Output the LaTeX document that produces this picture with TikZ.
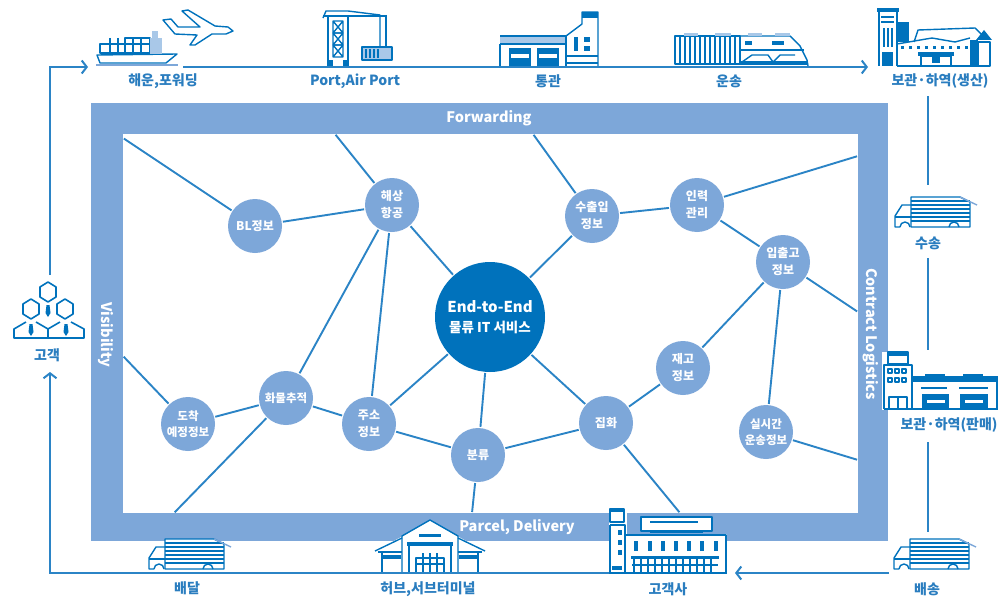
\documentclass[tikz,border=0pt]{standalone}
\usepackage{fontspec}
\setmainfont{Noto Sans CJK KR}
\usetikzlibrary{arrows.meta}
\definecolor{framecol}{HTML}{7DA7D9}
\definecolor{linkcol}{HTML}{2B84C6}
\definecolor{darkcol}{HTML}{0072BC}
\definecolor{palecol}{HTML}{A9C8E8}
\definecolor{labelcol}{HTML}{2A7DBF}
\tikzset{
linkline/.style={line width=1.9pt,color=linkcol,shorten >=1pt,shorten <=1pt},
loopline/.style={line width=2pt,color=linkcol},
iconline/.style={line width=1.4pt,color=darkcol,line join=round},
iconfill/.style={fill=darkcol,draw=none},
infonode/.style={circle,fill=framecol,text=white,minimum size=54pt,inner sep=0pt,align=center,font=\fontsize{12}{17}\selectfont\bfseries},
mainnode/.style={circle,fill=darkcol,text=white,minimum size=110pt,inner sep=0pt,align=center,font=\fontsize{15}{20}\selectfont\bfseries},
steplabel/.style={text=labelcol,inner sep=0pt,font=\fontsize{14}{16}\selectfont\bfseries},
framelabel/.style={text=white,inner sep=0pt,font=\fontsize{14.5}{16}\selectfont\bfseries},
truck/.pic={
\fill [white] (0,-26)-- (17,-26)-- (17,-34)-- (66,-34)-- (76,-29)-- (76,-3)-- (0,-3)-- cycle;
\draw [iconline] (17,-34)-- (66,-34)-- (76,-29)-- (76,-4)-- (17,-4)-- cycle;
\foreach \yy in {-30,-26,-22,-18,-14,-10} \draw [iconline] (17,\yy)-- (76,\yy);
\draw [iconline,color=framecol] (66,-34)-- (83,-26);
\draw [iconline] (17,-26)-- (8,-26)-- (1,-15)-- (1,-4)-- (6,-4);
\draw [iconline] (1,-14)-- (17,-14);
\draw [iconline] (6,-4) arc (180:360:5);
\draw [iconline] (55,-4) arc (180:360:5);
}
}
\begin{document}
\begin{tikzpicture}[line cap=butt,line join=miter,>={Straight Barb[length=5pt,width=13pt]},x=1pt,y=-1pt]
\clip(0,0) rectangle (998,602);
% frame
\fill [framecol] (91,103) rectangle (888,541);
\fill [white] (123,134) rectangle (858,513);
\draw (489,118) node[framelabel] (forwardlab) {Forwarding};
\draw (517,527) node[framelabel] (parcellab) {Parcel, Delivery};
\draw (106,335) node[framelabel,rotate=-90] (vislab) {Visibility};
\draw (871,334) node[framelabel,rotate=-90] (contractlab) {Contract Logistics};
% info nodes
\draw (490,317) node[mainnode] (center) {End-to-End\\\fontsize{13.5}{20}\selectfont 물류 IT 서비스};
\draw (255,226) node[infonode] (blinfo) {BL정보};
\draw (392,205) node[infonode] (seaair) {해상\\항공};
\draw (592,216) node[infonode] (customs) {수출입\\정보};
\draw (697,205) node[infonode] (staff) {인력\\관리};
\draw (783,262) node[infonode] (stockio) {입출고\\정보};
\draw (683,368) node[infonode] (stock) {재고\\정보};
\draw (606,423) node[infonode] (pickup) {집화};
\draw (766,432) node[infonode,font=\fontsize{11.5}{16}\selectfont\bfseries] (realtime) {실시간\\운송정보};
\draw (478,455) node[infonode] (sorting) {분류};
\draw (369,424) node[infonode] (address) {주소\\정보};
\draw (286,398) node[infonode,font=\fontsize{11.5}{16}\selectfont\bfseries] (tracking) {화물추적};
\draw (188,424) node[infonode,font=\fontsize{11.5}{16}\selectfont\bfseries] (arrival) {도착\\예정정보};
% free ends on the frame
\coordinate (blend) at (123,138);
\coordinate (seaend) at (335,134);
\coordinate (custend) at (533,134);
\coordinate (staffend) at (858,156);
\coordinate (ioend) at (858,312);
\coordinate (rtend) at (858,460);
\coordinate (pickend) at (680,513);
\coordinate (sortend) at (472,513);
\coordinate (trackend) at (174,513);
\coordinate (arrend) at (123,356);
% links
\draw [linkline] (blinfo)-- (blend);
\draw [linkline] (blinfo)-- (seaair);
\draw [linkline] (seaair)-- (seaend);
\draw [linkline] (seaair)-- (center);
\draw [linkline] (seaair)-- (address);
\draw [linkline] (seaair)-- (tracking);
\draw [linkline] (tracking)-- (arrival);
\draw [linkline] (tracking)-- (address);
\draw [linkline] (tracking)-- (trackend);
\draw [linkline] (arrival)-- (arrend);
\draw [linkline] (address)-- (center);
\draw [linkline] (address)-- (sorting);
\draw [linkline] (center)-- (sorting);
\draw [linkline] (center)-- (pickup);
\draw [linkline] (center)-- (customs);
\draw [linkline] (sorting)-- (pickup);
\draw [linkline] (sorting)-- (sortend);
\draw [linkline] (pickup)-- (pickend);
\draw [linkline] (pickup)-- (stock);
\draw [linkline] (stock)-- (stockio);
\draw [linkline] (stockio)-- (staff);
\draw [linkline] (stockio)-- (ioend);
\draw [linkline] (stockio)-- (realtime);
\draw [linkline] (realtime)-- (rtend);
\draw [linkline] (staff)-- (staffend);
\draw [linkline] (staff)-- (customs);
\draw [linkline] (customs)-- (custend);
% outer loop
\coordinate (peopletop) at (50,275);
\coordinate (topleft) at (50,67);
\coordinate (shipin) at (88,67);
\coordinate (shipout) at (183,67);
\coordinate (factin) at (868,67);
\coordinate (factout) at (928,96);
\coordinate (truckin) at (928,185);
\coordinate (truckout) at (928,258);
\coordinate (wareIn) at (928,350);
\coordinate (wareout) at (928,442);
\coordinate (lowtruck) at (928,532);
\coordinate (lowout) at (889,573);
\coordinate (custin) at (735,573);
\coordinate (custout) at (727,573);
\coordinate (botleft) at (50,573);
\coordinate (peoplelow) at (50,372);
\draw [loopline,->] (peopletop)-- (topleft)-- (shipin);
\draw [loopline,->] (shipout)-- (factin);
\draw [loopline] (factout)-- (truckin);
\draw [loopline] (truckout)-- (wareIn);
\draw [loopline] (wareout)-- (lowtruck);
\draw [loopline,->] (lowout)-- (custin);
\draw [loopline,->] (custout)-- (botleft)-- (peoplelow);
% step labels
\draw (163,81) node[steplabel] (shiplab) {해운,포워딩};
\draw (355,81) node[steplabel] (portlab) {Port,Air Port};
\draw (548,81) node[steplabel] (clearlab) {통관};
\draw (729,81) node[steplabel] (haullab) {운송};
\draw (940,81) node[steplabel] (prodlab) {보관·하역(생산)};
\draw (928,243) node[steplabel] (movelab) {수송};
\draw (949,425) node[steplabel] (salelab) {보관·하역(판매)};
\draw (927,589) node[steplabel] (shiptolab) {배송};
\draw (668,589) node[steplabel] (clientlab) {고객사};
\draw (428,589) node[steplabel] (hublab) {허브,서브터미널};
\draw (187,588) node[steplabel] (deliverlab) {배달};
\draw (47,355) node[steplabel] (customerlab) {고객};
% ship
\draw [iconline,fill=white] (97,55)-- (177,54)-- (166,63)-- (100,63)-- cycle;
\draw [iconline] (100,44) rectangle (150,53);
\draw [iconline] (125,38) rectangle (150,53);
\foreach \xx in {110,118,133,141} \draw [iconline] (\xx,38)-- (\xx,53);
\fill [palecol] (150,38) rectangle (162,54);
\fill [palecol] (152,31) rectangle (158,38);
\draw [iconline,color=framecol] (96,65)-- (178,65);
% plane
\draw [iconline] (163,20)-- (171,19)-- (178,27)-- (200,27)-- (182,11)-- (188,10)-- (215,26)-- (228,27)-- (233,31)-- (226,34)-- (212,34)-- (195,45)-- (190,45)-- (197,35)-- (175,34)-- cycle;
% crane
\draw [iconline] (328,16)-- (328,66);
\draw [iconline] (348,16)-- (348,66);
\draw [iconline] (323,18)-- (326,11)-- (348,11)-- (380,15)-- (380,47);
\draw [iconline] (386,15)-- (386,47);
\draw [iconline] (323,16)-- (386,16);
\foreach \yy in {21,33,45} \draw [iconline] (333,\yy) rectangle (343,\yy+12) (333,\yy)-- (343,\yy+12) (333,\yy+12)-- (343,\yy);
\fill [darkcol] (327,60) rectangle (333,66);
\fill [darkcol] (343,60) rectangle (349,66);
\draw [iconline,fill=palecol] (362,47) rectangle (392,60);
\foreach \xx in {366,370,374,378} \draw [iconline] (\xx,49)-- (\xx,58);
% customs house
\fill [palecol] (500,37) rectangle (566,44);
\draw [iconline] (500,36)-- (566,36)-- (566,66) (500,44)-- (566,44) (500,44)-- (500,66);
\fill [darkcol] (509,48) rectangle (531,66);
\fill [darkcol] (537,48) rectangle (559,66);
\fill [white] (511,54) rectangle (529,58);
\fill [white] (539,54) rectangle (557,58);
\draw [iconline] (566,36)-- (582,24)-- (582,12)-- (598,12)-- (598,66);
\fill [darkcol] (582,12) rectangle (598,18);
\draw [iconline] (566,56)-- (598,56) (566,63)-- (598,63);
\fill [darkcol] (574,37) rectangle (578,51);
\fill [darkcol] (584,37) rectangle (590,42);
\fill [darkcol] (584,46) rectangle (590,51);
% train
\draw [iconline] (675,36)-- (740,36)-- (740,64)-- (675,64)-- cycle;
\foreach \xx in {680,685,690,695,700,705,710,715,720,725,730,735} \draw [iconline] (\xx,36)-- (\xx,64);
\draw [iconline] (740,36)-- (790,36)-- (800,46)-- (807,60)-- (808,66);
\draw [iconline] (740,50)-- (804,50);
\fill [palecol] (684,33) rectangle (698,36);
\fill [palecol] (715,33) rectangle (731,36);
\fill [palecol] (748,33) rectangle (762,36);
\fill [palecol] (775,33) rectangle (790,36);
\fill [darkcol] (745,41) rectangle (752,45);
\fill [darkcol] (772,41) rectangle (784,45);
\draw [iconline] (742,62)-- (752,55)-- (768,55)-- (773,62) (773,62)-- (780,55)-- (795,55);
\fill [darkcol] (740,61) rectangle (808,65);
% factory
\draw [iconline] (879,9)-- (897,9)-- (897,66) (879,9)-- (879,66);
\fill [darkcol] (877,8) rectangle (899,12);
\fill [darkcol] (882,52) rectangle (893,66);
\draw [iconline] (881,17)-- (894,17) (881,22)-- (894,22);
\foreach \xx in {884,888,892} \draw [iconline] (\xx,28)-- (\xx,47);
\fill [darkcol] (897,22) rectangle (909,42);
\draw [iconline] (914,42)-- (918,30)-- (975,28)-- (985,38);
\draw [iconline] (897,66)-- (990,66);
\draw [iconline] (897,44)-- (932,38)-- (955,42)-- (970,38);
\foreach \xx in {901,909,917,925,933,941,949,957,965} \fill [darkcol] (\xx,46) rectangle (\xx+3,49);
\draw [iconline] (921,56) rectangle (951,66);
\fill [darkcol] (918,52) rectangle (954,56);
\fill [darkcol] (932,57) rectangle (940,63);
\fill [darkcol] (970,40) rectangle (978,66);
\draw [iconline] (978,42) rectangle (990,66);
\fill [darkcol] (984,30)-- (976,40)-- (992,40)-- cycle;
% trucks
\draw (894,231) pic {truck};
\draw (148,573) pic {truck};
\draw (893,573) pic {truck};
% warehouse on the right
\fill [white] (882,352) rectangle (998,410);
\draw [iconline] (884,409)-- (998,409);
\draw [iconline] (884,409)-- (884,365)-- (912,365)-- (912,409);
\draw [iconline] (888,352) rectangle (908,364);
\fill [darkcol] (888,352) rectangle (908,356);
\foreach \xx in {888,895,902} \foreach \yy in {369,378} \draw [iconline] (\xx,\yy) rectangle (\xx+4,\yy+4);
\draw [iconline] (889,408)-- (889,397)-- (907,397)-- (907,408) (898,397)-- (898,408);
\fill [darkcol] (912,376) rectangle (998,382);
\fill [darkcol] (925,374) rectangle (945,377);
\fill [darkcol] (963,374) rectangle (983,377);
\draw [iconline] (921,388)-- (947,388) (959,388)-- (988,388);
\fill [darkcol] (922,394) rectangle (949,409);
\fill [darkcol] (960,394) rectangle (988,409);
\fill [white] (927,400) rectangle (945,403);
\fill [white] (965,400) rectangle (983,403);
\draw [iconline] (912,382)-- (912,409) (997,382)-- (997,409);
% hub terminal
\fill [white] (403,573)-- (403,536)-- (430,520)-- (457,536)-- (457,573)-- cycle;
\fill [white] (375,551)-- (403,536)-- (403,573)-- (382,573)-- cycle;
\fill [white] (485,551)-- (457,536)-- (457,573)-- (478,573)-- cycle;
\draw [iconline] (402,573)-- (402,536)-- (430,520)-- (458,536)-- (458,573);
\draw [iconline] (375,551)-- (402,538) (485,551)-- (458,538);
\draw [iconline] (378,552)-- (402,552) (482,552)-- (458,552) (382,552)-- (382,573) (478,552)-- (478,573);
\fill [darkcol] (419,534) rectangle (441,537);
\fill [darkcol] (407,542) rectangle (453,546);
\draw [iconline] (409,546)-- (409,573) (451,546)-- (451,573);
\draw [iconline] (416,558) rectangle (444,573);
\foreach \xx in {423,430,437} \draw [iconline] (\xx,553)-- (\xx,573);
\draw [iconline] (416,564)-- (444,564);
\fill [darkcol] (383,555) rectangle (401,559);
\fill [darkcol] (459,555) rectangle (477,559);
\draw [iconline,color=linkcol] (375,573)-- (485,573);
% client building
\fill [white] (609,508) rectangle (627,573);
\fill [white] (627,534) rectangle (727,573);
\draw [iconline] (610,525)-- (625,525)-- (625,573) (610,525)-- (610,573);
\draw [iconline] (610,509) rectangle (624,522);
\fill [darkcol] (610,509) rectangle (624,512);
\foreach \yy in {530,540,550} \fill [darkcol] (618,\yy) rectangle (622,\yy+5);
\fill [darkcol] (612,566) rectangle (622,570);
\draw [iconline,fill=white] (641,517) rectangle (712,531);
\draw [iconline] (650,522)-- (698,522);
\draw [iconline] (625,535)-- (726,535)-- (726,573);
\draw [iconline] (650,532)-- (703,532);
\foreach \xx in {634,648,661,674,687,700,714} \fill [darkcol] (\xx,541) rectangle (\xx+4,551);
\fill [darkcol] (631,556) rectangle (719,559);
\foreach \xx in {634,641,648,655,662,669,676,683,690,697,704,711} \draw [iconline] (\xx,559)-- (\xx,572);
\draw [iconline] (632,565)-- (718,565);
\draw [iconline] (609,573)-- (727,573);
% people
\foreach \xx/\yy in {48/292,31/309,65/309} \draw [iconline,line width=1.6pt] (\xx,\yy-10)-- (\xx+8,\yy-5)-- (\xx+8,\yy+5)-- (\xx,\yy+10)-- (\xx-8,\yy+5)-- (\xx-8,\yy-5)-- cycle;
\draw [iconline,line width=1.6pt] (26,322)-- (14,329)-- (14,338)-- (84,338)-- (84,329)-- (71,322);
\draw [iconline,line width=1.6pt] (36,322)-- (48,329)-- (60,322) (48,329)-- (48,338);
\foreach \xx/\yy in {48/305,31/324,66/324} \fill [darkcol] (\xx-1.5,\yy)-- (\xx+1.5,\yy)-- (\xx+2.5,\yy+8)-- (\xx,\yy+12)-- (\xx-2.5,\yy+8)-- cycle;
\end{tikzpicture}
\end{document}
